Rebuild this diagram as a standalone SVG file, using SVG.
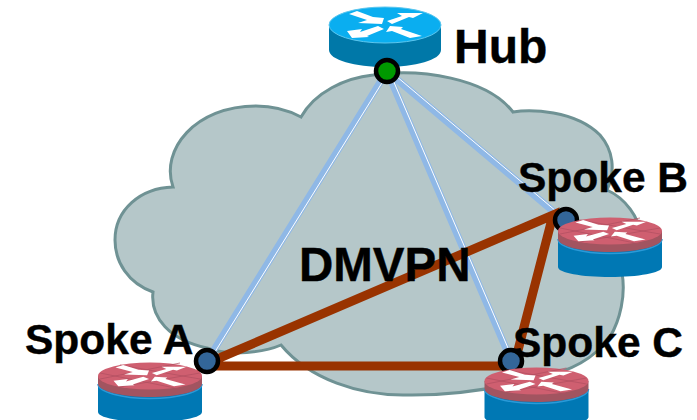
<svg xmlns="http://www.w3.org/2000/svg" width="697" height="420" viewBox="0 0 697 420">
<style>
text{font-family:"Liberation Sans",Arial,sans-serif;font-weight:bold;fill:#000;stroke:#000;stroke-width:.4}
.l{font-size:42.5px}
.tun{stroke:#8fb8e6;stroke-width:7;fill:none}
.tunc{stroke:#fff;stroke-width:1;fill:none}
.ptp{stroke:#993300;stroke-width:9;fill:none;stroke-linejoin:miter}
.dot{stroke:#000;stroke-width:4.5}
.ar{fill:#fff}
.grid{stroke:#b04f60;stroke-width:.7;fill:none}
</style>
<defs>
<path id="arrows" class="ar" d="M-36-11L-28-14L-12-8L-1-7L-3-1L-27-2L-18-5ZM2-4L17-9L12-12L38-12L28-7L24-8L7-1ZM-38 6L-23 4L-25 7L-7 1L-1 4L-18 11L-16 12L-33 13ZM1 7L5 1L18 2L16 4L37 11L25 13L7 6Z"/>
<g id="blue">
<path d="M-56 0V25C-56 35-30 42 0 42S56 35 56 25V0Z" fill="#0078a8"/>
<ellipse cx="0" cy="0" rx="56" ry="18" fill="#0aaef0" stroke="#5cc6ee" stroke-width="1"/>
<use href="#arrows"/>
</g>
<g id="red">
<path d="M-52 8V36C-52 42-28 46 0 46S52 42 52 36V8Z" fill="#0078b4"/>
<path d="M-52 8C-52 16-28 22.500 0 22.500S52 16 52 8" fill="none" stroke="#2a9ad8" stroke-width="1.500"/>
<path d="M-52 0V8C-52 15-28 21 0 21S52 15 52 8V0Z" fill="#a25460"/>
<ellipse cx="0" cy="0" rx="52" ry="13.500" fill="#cf5f70"/>
<path class="grid" d="M-50 3L30-13M-30 11L50-3M-30-11L50 3M-50-3L30 13"/>
<use href="#arrows" transform="scale(.96 .78)"/>
</g>
</defs>
<g id="cloud">
<path d="M281 345C265 352 230 357 207 348C170 340 150 318 153 292C128 283 115 262 115 240C115 210 140 188 173 187C160 150 195 106 256 106C272 106 288 110 301 117C315 92 345 78 373 75C420 68 487 78 513 112C530 109 575 110 600 135C613 150 616 170 607 190C625 198 640 218 640 235C640 250 628 265 622 273C626 295 620 320 610 337C595 358 570 372 540 377C500 388 450 396 403 395C360 395 310 380 281 345Z" fill="#b5c7c9" stroke="#6f9294" stroke-width="3"/>
</g>
<g id="connectors">
<path class="tun" d="M387 71L207 361M387 71L511 360M387 71L554 212"/>
<path class="tunc" d="M388.700 72L208.700 362M388.800 70.200L512.800 359.200M388.300 69.500L555.300 210.500"/>
<path class="ptp" d="M196 368L553 215L516 358M207 366L511 366"/>
</g>
<g id="hub">
<use href="#blue" x="385" y="25"/>
<circle class="dot" cx="387" cy="71" r="11" fill="#009900"/>
<text x="454" y="63" font-size="48">Hub</text>
</g>
<g id="spoke-b">
<circle class="dot" cx="566" cy="220" r="11" fill="#336699"/>
<use href="#red" x="610" y="231"/>
<text class="l" x="518" y="192">Spoke B</text>
</g>
<g id="spoke-c">
<circle class="dot" cx="511" cy="361" r="11" fill="#336699"/>
<use href="#red" x="536.500" y="381"/>
<text class="l" x="513" y="357">Spoke C</text>
</g>
<g id="spoke-a">
<circle class="dot" cx="207" cy="361" r="11" fill="#336699"/>
<use href="#red" x="150" y="376"/>
<text class="l" x="25" y="354">Spoke A</text>
</g>
<g id="dmvpn"><text x="299" y="281" font-size="47.500">DMVPN</text></g>
</svg>
